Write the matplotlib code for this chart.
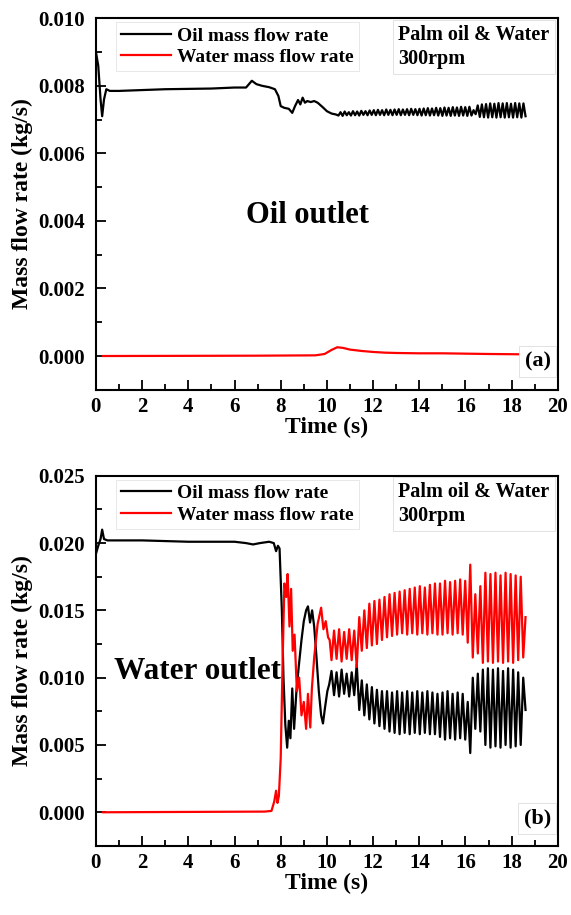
import numpy as np
import matplotlib
matplotlib.use("Agg")
import matplotlib.pyplot as plt
from matplotlib.ticker import MultipleLocator, FormatStrFormatter

plt.rcParams['font.family'] = ['Liberation Serif', 'DejaVu Serif']
plt.rcParams['font.weight'] = 'bold'

# ---------------- (a) Oil outlet ----------------
a_oil_t = [0, 0.1, 0.2, 0.27, 0.35, 0.45, 0.6, 1, 3, 5, 6, 6.5, 6.75, 6.95, 7.2,
           7.5, 7.75, 7.9, 8.0, 8.15, 8.35, 8.5, 8.62, 8.75, 8.85, 8.95, 9.05,
           9.15, 9.3, 9.45, 9.6, 9.8, 10.0, 10.2, 10.4]
a_oil_v = [0.0090, 0.0086, 0.0076, 0.0071, 0.0076, 0.0079, 0.00785, 0.00785,
           0.0079, 0.00792, 0.00795, 0.00795, 0.00815, 0.00805, 0.00800, 0.00796,
           0.00790, 0.00770, 0.00740, 0.00735, 0.00732, 0.00720, 0.00740, 0.00758,
           0.00745, 0.00765, 0.00750, 0.00755, 0.00752, 0.00755, 0.00750, 0.00738,
           0.00725, 0.00718, 0.00715]
# oscillating part 10.5 - 18.6 s: alternating troughs / peaks
a_osc_lo = [0.00712, 0.00711, 0.00713, 0.00712, 0.00713, 0.00712, 0.00714, 0.00713,
            0.00714, 0.00713, 0.00714, 0.00713, 0.00714, 0.00713, 0.00714, 0.00713,
            0.00714, 0.00713, 0.00714, 0.00713, 0.00712, 0.00713, 0.00712, 0.00713,
            0.00712, 0.00711, 0.00712, 0.00711, 0.00712, 0.00711, 0.00712, 0.00711,
            0.00712, 0.00716, 0.00708, 0.00707, 0.00706, 0.00707, 0.00706, 0.00707,
            0.00706, 0.00707, 0.00706, 0.00707, 0.00706, 0.00710]
a_osc_hi = [0.00722, 0.00724, 0.00722, 0.00725, 0.00724, 0.00726, 0.00725, 0.00727,
            0.00728, 0.00729, 0.00728, 0.00730, 0.00729, 0.00730, 0.00731, 0.00730,
            0.00731, 0.00732, 0.00731, 0.00732, 0.00733, 0.00734, 0.00733, 0.00735,
            0.00734, 0.00736, 0.00735, 0.00737, 0.00736, 0.00738, 0.00737, 0.00738,
            0.00728, 0.00742, 0.00745, 0.00746, 0.00748, 0.00747, 0.00749, 0.00748,
            0.00749, 0.00747, 0.00749, 0.00748, 0.00748]
a_osc_start, a_osc_end = 10.5, 18.6

a_water_t = [0.3, 7, 9.5, 9.9, 10.2, 10.45, 10.7, 11.0, 11.5, 12, 12.5, 13, 14, 15,
             16, 17, 18.6]
a_water_v = [0, 0.00001, 0.00002, 0.00006, 0.00018, 0.00026, 0.00024, 0.00019,
             0.00015, 0.00012, 0.00010, 0.00009, 0.00008, 0.00008, 0.00007,
             0.00006, 0.00005]

# ---------------- (b) Water outlet ----------------
b_oil_t = [0, 0.1, 0.2, 0.27, 0.35, 0.5, 2, 4, 6, 6.5, 6.8, 7.1, 7.5, 7.7, 7.8,
           7.88, 7.95, 8.05, 8.12, 8.2, 8.28, 8.35, 8.42, 8.5, 8.58, 8.68, 8.78,
           8.9, 9.0, 9.1, 9.18, 9.27, 9.36, 9.45, 9.55, 9.65, 9.75, 9.83, 9.92,
           10.02, 10.1]
b_oil_v = [0.0192, 0.0198, 0.0203, 0.0210, 0.0203, 0.0202, 0.0202, 0.0201, 0.0201,
           0.0200, 0.0199, 0.0200, 0.0201, 0.0200, 0.0194, 0.0198, 0.0196, 0.0150,
           0.0100, 0.0065, 0.0048, 0.0068, 0.0055, 0.0092, 0.0062, 0.0090, 0.0108,
           0.0128, 0.0142, 0.0150, 0.0153, 0.0141, 0.0150, 0.0138, 0.0115, 0.0090,
           0.0072, 0.0066, 0.0078, 0.0090, 0.0095]
b_water_t = [0.3, 7.3, 7.6, 7.72, 7.8, 7.86, 7.92, 8.0, 8.08, 8.16, 8.24, 8.3, 8.38,
             8.45, 8.52, 8.6, 8.7, 8.8, 8.9, 9.0, 9.1, 9.18, 9.28, 9.35, 9.45,
             9.6, 9.75, 9.85, 9.95, 10.05, 10.12]
b_water_v = [0, 0.00005, 0.0001, 0.0008, 0.0016, 0.0007, 0.0012, 0.0040, 0.0110,
             0.0170, 0.0160, 0.0177, 0.0138, 0.0166, 0.0120, 0.0132, 0.0090, 0.0100,
             0.0072, 0.0082, 0.0062, 0.0088, 0.0063, 0.0092, 0.0115, 0.0140, 0.0152,
             0.0136, 0.0142, 0.0130, 0.0128]
# oscillating part 10.2 - 18.5 s (water low <-> oil high)
b_water_lo = [0.0113, 0.0114, 0.0112, 0.0114, 0.0113, 0.0108, 0.0120, 0.0122,
              0.0124, 0.0125, 0.0128, 0.0130, 0.0131, 0.0132, 0.0133, 0.0132,
              0.0133, 0.0132, 0.0133, 0.0132, 0.0133, 0.0132, 0.0132, 0.0133,
              0.0132, 0.0133, 0.0132, 0.0126, 0.0115, 0.0118, 0.0111, 0.0112,
              0.0111, 0.0112, 0.0111, 0.0112, 0.0111, 0.0113, 0.0115]
b_water_hi = [0.0135, 0.0136, 0.0134, 0.0136, 0.0135, 0.0145, 0.0150, 0.0155,
              0.0157, 0.0158, 0.0160, 0.0162, 0.0163, 0.0164, 0.0165, 0.0166,
              0.0167, 0.0168, 0.0167, 0.0169, 0.0170, 0.0170, 0.0172, 0.0171,
              0.0172, 0.0173, 0.0172, 0.0184, 0.0162, 0.0168, 0.0178, 0.0177,
              0.0178, 0.0176, 0.0178, 0.0177, 0.0176, 0.0175]
b_oil_hi = [0.0105, 0.0104, 0.0106, 0.0103, 0.0104, 0.0110, 0.0098, 0.0095,
            0.0093, 0.0091, 0.0090, 0.0090, 0.0089, 0.0090, 0.0089, 0.0090,
            0.0089, 0.0090, 0.0089, 0.0090, 0.0089, 0.0088, 0.0089, 0.0090,
            0.0088, 0.0089, 0.0088, 0.0082, 0.0100, 0.0103, 0.0106, 0.0107,
            0.0106, 0.0107, 0.0105, 0.0107, 0.0106, 0.0104, 0.0100]
b_oil_lo = [0.0087, 0.0086, 0.0088, 0.0086, 0.0087, 0.0076, 0.0072, 0.0069,
            0.0066, 0.0064, 0.0062, 0.0060, 0.0059, 0.0058, 0.0059, 0.0058,
            0.0059, 0.0058, 0.0059, 0.0058, 0.0058, 0.0056, 0.0054, 0.0055,
            0.0054, 0.0055, 0.0054, 0.0044, 0.0062, 0.0060, 0.0050, 0.0048,
            0.0049, 0.0048, 0.0050, 0.0048, 0.0049, 0.0050]
b_osc_start, b_osc_end = 10.2, 18.5
b_end_t = 18.6
b_water_end = 0.0145
b_oil_end = 0.0076

x_ticks = [0, 2, 4, 6, 8, 10, 12, 14, 16, 18, 20]


def interleave(first, second):
    out = []
    for i in range(len(first)):
        out.append(first[i])
        if i < len(second):
            out.append(second[i])
    return out


# assemble series
a_osc_v = interleave(a_osc_lo, a_osc_hi)
a_osc_t = np.linspace(a_osc_start, a_osc_end, len(a_osc_v))
a_oil_tt = np.concatenate([a_oil_t, a_osc_t])
a_oil_vv = np.concatenate([a_oil_v, a_osc_v])

bw_osc = interleave(b_water_lo, b_water_hi)
bo_osc = interleave(b_oil_hi, b_oil_lo)
b_osc_t = np.linspace(b_osc_start, b_osc_end, len(bw_osc))
b_water_tt = np.concatenate([b_water_t, b_osc_t, [b_end_t]])
b_water_vv = np.concatenate([b_water_v, bw_osc, [b_water_end]])
b_oil_tt = np.concatenate([b_oil_t, b_osc_t, [b_end_t]])
b_oil_vv = np.concatenate([b_oil_v, bo_osc, [b_oil_end]])

fig = plt.figure(figsize=(5.71, 9.15), dpi=100)
ax1 = fig.add_axes([0.168, 0.574, 0.809, 0.406])
ax2 = fig.add_axes([0.168, 0.0755, 0.809, 0.4045])

lab_font = dict(fontsize=17, fontweight='bold')


def style(ax, ylim, major, minor):
    ax.set_xlim(0, 20)
    ax.set_ylim(*ylim)
    ax.set_xticks(x_ticks)
    ax.xaxis.set_minor_locator(MultipleLocator(1))
    ax.yaxis.set_major_locator(MultipleLocator(major))
    ax.yaxis.set_minor_locator(MultipleLocator(minor))
    ax.yaxis.set_major_formatter(FormatStrFormatter('%.3f'))
    ax.tick_params(which='both', direction='in', top=False, right=False,
                   labelsize=15, width=1.3)
    ax.tick_params(axis='y', which='major', pad=8)
    ax.tick_params(axis='x', which='major', pad=5)
    ax.tick_params(which='major', length=7)
    ax.tick_params(which='minor', length=4)
    for lbl in ax.get_xticklabels() + ax.get_yticklabels():
        lbl.set_fontweight('bold')
    for sp in ax.spines.values():
        sp.set_linewidth(1.5)
    ax.set_xlabel('Time (s)', labelpad=0, **lab_font)
    ax.set_ylabel('Mass flow rate (kg/s)', labelpad=4, **lab_font)


def legends(ax, tag, tag_y):
    leg = ax.legend(loc='upper left', bbox_to_anchor=(0.035, 1.0),
                    prop={'family': 'Liberation Serif', 'weight': 'bold', 'size': 14},
                    frameon=True, fancybox=False, edgecolor='#dddddd',
                    handlelength=2.6, handletextpad=0.3, borderpad=0.25,
                    labelspacing=0.2, borderaxespad=0.2)
    leg.get_frame().set_linewidth(0.6)
    ax.text(0.655, 0.982, 'Palm oil & Water\n300rpm', transform=ax.transAxes,
            ha='left', va='top', fontsize=14.5, fontweight='bold', linespacing=1.25,
            bbox=dict(boxstyle='square,pad=0.25', fc='white', ec='#dddddd', lw=0.6))
    ax.text(0.985, tag_y, tag, transform=ax.transAxes, ha='right', va='center',
            fontsize=16, fontweight='bold',
            bbox=dict(boxstyle='square,pad=0.25', fc='white', ec='#dddddd', lw=0.6))


ax1.plot(a_oil_tt, a_oil_vv, color='black', lw=1.6, label='Oil mass flow rate')
ax1.plot(a_water_t, a_water_v, color='red', lw=1.6, label='Water mass flow rate')
style(ax1, (-0.001, 0.010), 0.002, 0.001)
legends(ax1, '(a)', 0.075)
ax1.text(0.457, 0.47, 'Oil outlet', transform=ax1.transAxes, ha='center',
         va='center', fontsize=22, fontweight='bold')

ax2.plot(b_oil_tt, b_oil_vv, color='black', lw=1.6, label='Oil mass flow rate')
ax2.plot(b_water_tt, b_water_vv, color='red', lw=1.6, label='Water mass flow rate')
style(ax2, (-0.0025, 0.025), 0.005, 0.0025)
legends(ax2, '(b)', 0.075)
ax2.text(0.04, 0.47, 'Water outlet', transform=ax2.transAxes, ha='left',
         va='center', fontsize=22.5, fontweight='bold')

fig.savefig('out.png', dpi=100)
